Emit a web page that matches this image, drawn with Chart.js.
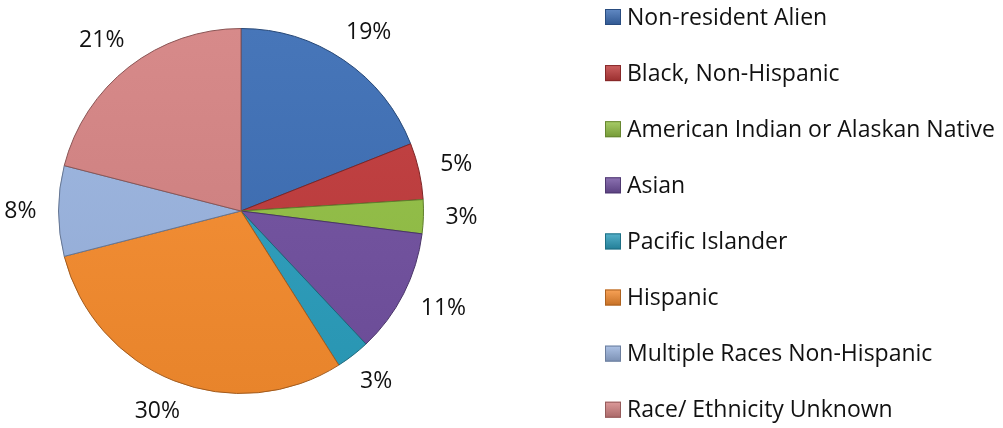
<!DOCTYPE html>
<html>
<head>
<meta charset="utf-8">
<script src="https://cdn.jsdelivr.net/npm/chart.js@4/dist/chart.umd.min.js"></script>
<style>
  html, body { margin: 0; padding: 0; background: #fff; }
  #wrap { width: 1003px; height: 428px; }
</style>
</head>
<body>
<div id="wrap"><canvas id="raceChart" width="1003" height="428"></canvas></div>
<script>
const categories = [
    'Non-resident Alien',
    'Black, Non-Hispanic',
    'American Indian or Alaskan Native',
    'Asian',
    'Pacific Islander',
    'Hispanic',
    'Multiple Races Non-Hispanic',
    'Race/ Ethnicity Unknown'
];
const percentages = [19, 5, 3, 11, 3, 30, 8, 21];
const sliceColors = ['#3B6DB5', '#C0393A', '#92C044', '#7150A0', '#2B9EBD', '#F78C2E', '#9AB4E0', '#D48282'];

const FONT = '"Open Sans", sans-serif';

function shade(hex, amt) {
    const n = parseInt(hex.slice(1), 16);
    let r = (n >> 16) & 255, g = (n >> 8) & 255, b = n & 255;
    const t = amt < 0 ? 0 : 255, p = Math.abs(amt);
    r = Math.round((t - r) * p + r);
    g = Math.round((t - g) * p + g);
    b = Math.round((t - b) * p + b);
    return 'rgb(' + r + ',' + g + ',' + b + ')';
}

// outside-end percentage labels + the legend column on the right
const labelsAndLegend = {
    id: 'labelsAndLegend',
    afterDraw(chart) {
        const ctx = chart.ctx;
        const meta = chart.getDatasetMeta(0);
        const total = percentages.reduce((a, b) => a + b, 0);
        ctx.save();
        ctx.font = '23px ' + FONT;
        ctx.fillStyle = '#111';
        ctx.textAlign = 'center';
        ctx.textBaseline = 'middle';
        meta.data.forEach((arc, i) => {
            const p = arc.getProps(['x', 'y', 'startAngle', 'endAngle', 'outerRadius'], true);
            const mid = (p.startAngle + p.endAngle) / 2;
            const dx = Math.cos(mid), dy = Math.sin(mid);
            const txt = Math.round(percentages[i] / total * 100) + '%';
            const w = ctx.measureText(txt).width, h = 22;
            const d = p.outerRadius + 22;
            ctx.fillText(txt, p.x + dx * d + dx * w / 2, p.y + dy * d + dy * h / 2);
        });

        // legend
        const lx = 605, ly = 17, step = 56.1, box = 16;
        ctx.font = '23px ' + FONT;
        ctx.textAlign = 'left';
        categories.forEach((name, i) => {
            const cy = ly + i * step;
            const g = ctx.createLinearGradient(0, cy - box / 2, 0, cy + box / 2);
            g.addColorStop(0, shade(sliceColors[i], 0.2));
            g.addColorStop(1, shade(sliceColors[i], -0.2));
            ctx.fillStyle = g;
            ctx.fillRect(lx, cy - box / 2, box, box);
            ctx.strokeStyle = shade(sliceColors[i], -0.3);
            ctx.lineWidth = 1;
            ctx.strokeRect(lx + 0.5, cy - box / 2 + 0.5, box - 1, box - 1);
            ctx.fillStyle = '#111';
            ctx.fillText(name, lx + box + 6, cy + 1);
        });
        ctx.restore();
    }
};

const ctxRace = document.getElementById('raceChart').getContext('2d');
const raceChart = new Chart(ctxRace, {
    type: 'pie',
    data: {
        labels: categories,
        datasets: [{
            data: percentages,
            backgroundColor(c) {
                const area = c.chart.chartArea;
                const base = sliceColors[c.dataIndex];
                if (!area) return base;
                const g = c.chart.ctx.createLinearGradient(0, area.top, 0, area.bottom);
                g.addColorStop(0, shade(base, 0.06));
                g.addColorStop(1, shade(base, -0.06));
                return g;
            },
            borderColor: sliceColors.map(c => shade(c, -0.35)),
            borderWidth: 1
        }]
    },
    plugins: [labelsAndLegend],
    options: {
        responsive: false,
        animation: false,
        rotation: 0,
        layout: { padding: { left: 58, right: 579, top: 28, bottom: 34 } },
        plugins: {
            legend: { display: false },
            tooltip: { enabled: false }
        }
    }
});
</script>
</body>
</html>
